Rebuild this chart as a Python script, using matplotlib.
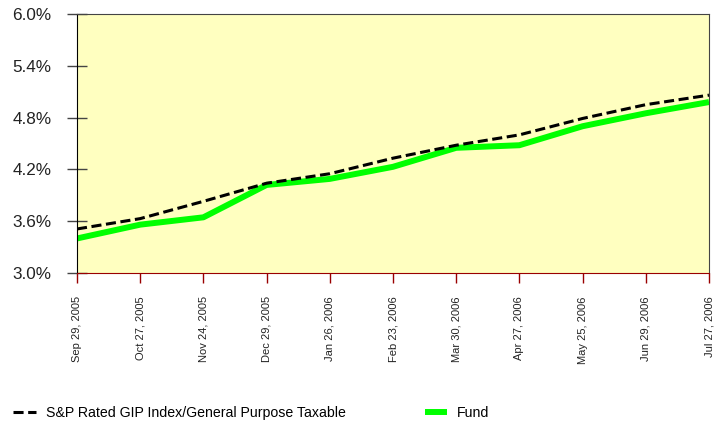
"""
Fund yield vs S&P Rated GIP Index, Sep 2005 - Jul 2006.
"""

import matplotlib
matplotlib.use("Agg")
import matplotlib.pyplot as plt
from matplotlib.ticker import FuncFormatter

plt.rcParams['font.family'] = ['Liberation Sans', 'DejaVu Sans']

# data
dates = ["Sep 29, 2005", "Oct 27, 2005", "Nov 24, 2005", "Dec 29, 2005",
         "Jan 26, 2006", "Feb 23, 2006", "Mar 30, 2006", "Apr 27, 2006",
         "May 25, 2006", "Jun 29, 2006", "Jul 27, 2006"]
index_yield = [3.51, 3.63, 3.83, 4.04, 4.15, 4.33, 4.48, 4.60, 4.79, 4.95, 5.06]
fund_yield = [3.40, 3.56, 3.645, 4.02, 4.09, 4.23, 4.45, 4.48, 4.70, 4.85, 4.98]
y_ticks = [3.0, 3.6, 4.2, 4.8, 5.4, 6.0]

fig = plt.figure(figsize=(7.2, 4.21), dpi=100)
ax = fig.add_axes([77 / 720, 1 - 273 / 421, (709 - 77) / 720, (273 - 14) / 421])
ax.set_facecolor("#FFFFC0")

x = list(range(len(dates)))
ax.plot(x, fund_yield, color="#00FF00", lw=4.3, solid_capstyle="butt",
        label="Fund", zorder=2)
ax.plot(x, index_yield, color="black", lw=2.2, dashes=(3.3, 1.5),
        label="S&P Rated GIP Index/General Purpose Taxable", zorder=3)

ax.set_xlim(0, len(dates) - 1)
ax.set_ylim(3.0, 6.0)
ax.set_yticks(y_ticks)
ax.yaxis.set_major_formatter(FuncFormatter(lambda v, p: f"{v:.1f}%"))
ax.set_xticks(x)
ax.set_xticklabels(dates, rotation=90, fontsize=8, color="#222222")

ax.tick_params(axis="y", direction="inout", length=14.4, width=1, color="#444444",
               labelsize=12.3, pad=11, labelcolor="#222222")
ax.tick_params(axis="x", direction="out", length=7.2, width=1, color="#990000",
               pad=9.5)

ax.spines["left"].set_color("black")
ax.spines["bottom"].set_color("#990000")
for s in ("top", "right"):
    ax.spines[s].set_color("#444444")

# legend along the bottom, index first
h, l = ax.get_legend_handles_labels()
fig.legend(h[::-1], l[::-1], loc="center left",
           bbox_to_anchor=(13 / 720, 1 - 413 / 421),
           ncol=2, frameon=False, fontsize=10.2, handlelength=1.6,
           handletextpad=0.7, columnspacing=5.6, borderpad=0, borderaxespad=0)

plt.savefig("out.png")
plt.close()
